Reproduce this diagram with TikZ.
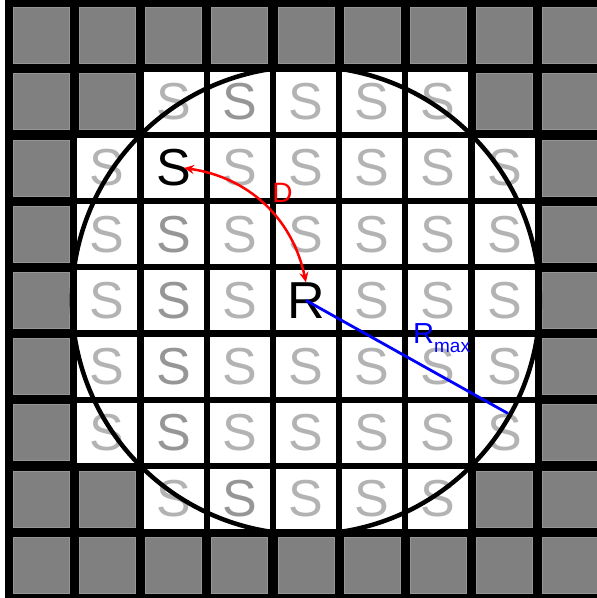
\documentclass[tikz,border=0pt]{standalone}
\usepackage{fontspec}
\setmainfont{Liberation Sans}
\usetikzlibrary{arrows.meta,calc}
\definecolor{cellgrey}{RGB}{128,128,128}
\definecolor{celledge}{RGB}{150,150,150}
\definecolor{sLight}{RGB}{179,179,179}
\definecolor{sDark}{RGB}{150,150,150}
\tikzset{
  greycell/.style={fill=cellgrey,draw=celledge,line width=0.8pt,minimum size=56pt,inner sep=0pt},
  whitecell/.style={fill=white,minimum size=60pt,inner sep=0pt},
  slabel/.style={inner sep=0pt,font=\fontsize{52}{52}\selectfont},
  circ/.style={draw=black,line width=4.5pt},
  darrow/.style={draw=red,line width=2.5pt,{Stealth[length=10pt,width=9pt]}-{Stealth[length=10pt,width=9pt]}},
  dlabel/.style={text=red,inner sep=0pt,font=\fontsize{28}{28}\selectfont},
  rmaxline/.style={draw=blue,line width=2.8pt},
  rmaxlabel/.style={text=blue,inner sep=0pt}
}
\begin{document}
\begin{tikzpicture}[x=1pt,y=-1pt]
\useasboundingbox (0,0) rectangle (597,598);
\fill[white] (0,0) rectangle (597,598);
\fill[black] (5,-2) rectangle (602,602);
% grey cells
\foreach \i in {0,...,8}{
  \foreach \j in {0,...,8}{
    \node[greycell] (g-\i-\j) at ({8+66.2*(\j+0.5)},{2.5+66.2*(\i+0.5)}) {};
  }
}
% white cells
\foreach \i/\a/\b in {1/2/6,2/1/7,3/1/7,4/1/7,5/1/7,6/1/7,7/2/6}{
  \foreach \j in {\a,...,\b}{
    \node[whitecell] (w-\i-\j) at (g-\i-\j) {};
  }
}
% S labels
\foreach \i/\j in {1/2,1/4,1/5,1/6,
  2/1,2/3,2/4,2/5,2/6,2/7,
  3/1,3/3,3/4,3/5,3/6,3/7,
  4/1,4/3,4/5,4/6,4/7,
  5/1,5/3,5/4,5/5,5/6,5/7,
  6/1,6/3,6/4,6/5,6/6,6/7,
  7/2,7/4,7/5,7/6}{
  \node[slabel,text=sLight] (s-\i-\j) at (w-\i-\j) {S};
}
\foreach \i/\j in {1/3,3/2,4/2,5/2,6/2,7/3}{
  \node[slabel,text=sDark] (s-\i-\j) at (w-\i-\j) {S};
}
\node[slabel,text=black] (src) at (w-2-2) {S};
\node[slabel,text=black] (rcv) at (w-4-4) {R};
% circle
\draw[circ] (rcv.center) circle[radius=234];
% D arrow
\draw[darrow] ([xshift=-7pt]src.east) to[bend left=35] (rcv.north);
\node[dlabel] (dlab) at (282.5,193.3) {D};
% Rmax
\coordinate (rim) at ($(rcv.center)+(202,113)$);
\draw[rmaxline] (rcv.center) -- (rim);
\node[rmaxlabel,anchor=base west] (rmaxlab) at (413,343) {\fontsize{29}{29}\selectfont R\raisebox{-9pt}{\fontsize{19}{19}\selectfont max}};
\end{tikzpicture}
\end{document}
